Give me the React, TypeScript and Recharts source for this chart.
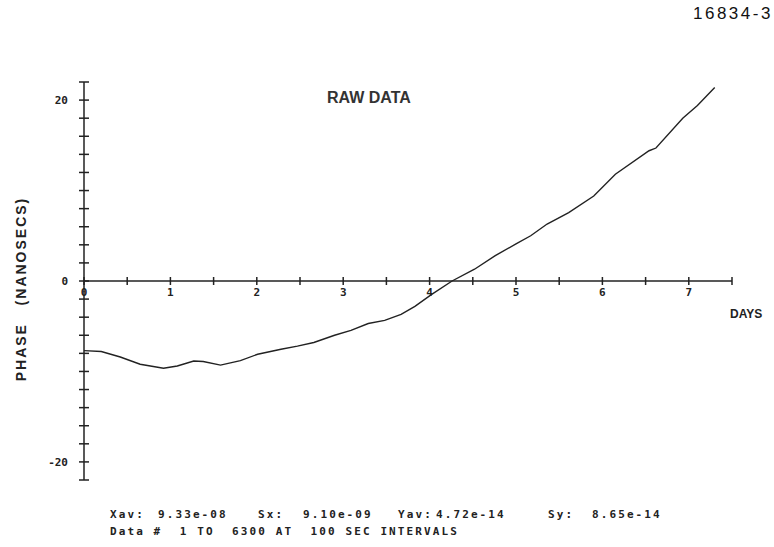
import { LineChart, Line, XAxis, YAxis } from 'recharts';

// days since start, phase in nanoseconds
const days = [0, 0.2, 0.42, 0.65, 0.92, 1.08, 1.27, 1.38, 1.58, 1.81, 2.01, 2.28, 2.47, 2.66, 2.9, 3.09, 3.29, 3.48, 3.67, 3.83, 4.02, 4.26, 4.52, 4.76, 5.0, 5.17, 5.36, 5.61, 5.9, 6.15, 6.54, 6.62, 6.93, 7.1, 7.3];
const phase = [-7.7, -7.8, -8.4, -9.2, -9.65, -9.4, -8.85, -8.9, -9.3, -8.8, -8.1, -7.55, -7.2, -6.8, -6.0, -5.45, -4.7, -4.35, -3.7, -2.8, -1.5, 0, 1.3, 2.8, 4.1, 5.0, 6.3, 7.55, 9.4, 11.8, 14.4, 14.7, 18.0, 19.4, 21.4];

const xTicks = [0, 0.5, 1, 1.5, 2, 2.5, 3, 3.5, 4, 4.5, 5, 5.5, 6, 6.5, 7, 7.5];
const yTicks = [-22, -20, -18, -16, -14, -12, -10, -8, -6, -4, -2, 0, 2, 4, 6, 8, 10, 12, 14, 16, 18, 20, 22];
const yLabels = [-20, 0, 20];

const statLine = [
  { text: 'Xav:', x: 110 },
  { text: '9.33e-08', x: 158 },
  { text: 'Sx:', x: 258 },
  { text: '9.10e-09', x: 303 },
  { text: 'Yav:', x: 398 },
  { text: '4.72e-14', x: 436 },
  { text: 'Sy:', x: 548 },
  { text: '8.65e-14', x: 592 },
];
const dataLine = 'Data #  1 TO  6300 AT  100 SEC INTERVALS';

const data = days.map((d, i) => ({ day: d, phase: phase[i] }));

const W = 774;
const H = 547;
const INK = '#222';
const mono = '"DejaVu Sans Mono", monospace';
const sans = '"Liberation Sans", Arial, sans-serif';

const layer: React.CSSProperties = { position: 'absolute', left: 0, top: 0 };

// tick drawn as a small cross through the axis, label only on labelled values
function YTick(props: any) {
  const { x, y, payload } = props;
  const v = payload.value as number;
  return (
    <g>
      <line x1={x - 5} x2={x + 5} y1={y} y2={y} stroke={INK} strokeWidth={1.5} />
      {yLabels.includes(v) && (
        <text x={x - 16} y={y} dy={4} textAnchor="end" fontFamily={mono} fontSize={11} fontWeight={700} fill={INK}>
          {v}
        </text>
      )}
    </g>
  );
}

function XTick(props: any) {
  const { x, y, payload } = props;
  const v = payload.value as number;
  return (
    <g>
      <line x1={x} x2={x} y1={y - 4} y2={y + 4} stroke={INK} strokeWidth={1.5} />
      {Number.isInteger(v) && (
        <text x={x} y={y + 15} textAnchor="middle" fontFamily={mono} fontSize={11} fontWeight={700} fill={INK}>
          {v}
        </text>
      )}
    </g>
  );
}

export default function App() {
  return (
    <div style={{ position: 'absolute', left: 0, top: 0, width: W, height: H, background: '#fff', overflow: 'hidden' }}>
      {/* curve + vertical axis */}
      <div style={layer}>
        <LineChart width={W} height={H} data={data} margin={{ top: 82, right: 42, bottom: 67, left: 24 }}>
          <XAxis type="number" dataKey="day" domain={[0, 7.5]} hide />
          <YAxis
            type="number"
            domain={[-22, 22]}
            ticks={yTicks}
            interval={0}
            width={60}
            tickSize={0}
            tickMargin={0}
            tickLine={false}
            stroke={INK}
            strokeWidth={1.5}
            tick={<YTick />}
          />
          <Line
            type="linear"
            dataKey="phase"
            stroke={INK}
            strokeWidth={1.4}
            dot={false}
            isAnimationActive={false}
          />
        </LineChart>
      </div>

      {/* horizontal axis through zero */}
      <div style={layer}>
        <LineChart width={W} height={H} data={data} margin={{ top: 82, right: 42, bottom: 236, left: 84 }}>
          <XAxis
            type="number"
            dataKey="day"
            domain={[0, 7.5]}
            ticks={xTicks}
            interval={0}
            height={30}
            tickSize={0}
            tickMargin={0}
            tickLine={false}
            stroke={INK}
            strokeWidth={1.5}
            tick={<XTick />}
          />
          <YAxis hide domain={[0, 22]} />
          <Line dataKey="phase" stroke="none" dot={false} isAnimationActive={false} />
        </LineChart>
      </div>

      <div style={{ position: 'absolute', left: 693, top: 4, fontFamily: sans, fontSize: 17, letterSpacing: 2.5, color: '#111' }}>
        16834-3
      </div>
      <div style={{ position: 'absolute', left: 327, top: 89, fontFamily: sans, fontSize: 16, fontWeight: 700, color: '#333' }}>
        RAW DATA
      </div>
      <div
        style={{
          position: 'absolute',
          left: 21,
          top: 289,
          transform: 'translate(-50%, -50%) rotate(-90deg)',
          whiteSpace: 'pre',
          fontFamily: sans,
          fontSize: 14,
          fontWeight: 700,
          letterSpacing: 2,
          color: INK,
        }}
      >
        {'PHASE   (NANOSECS)'}
      </div>
      <div style={{ position: 'absolute', left: 730, top: 307, fontFamily: sans, fontSize: 12, fontWeight: 700, color: INK }}>
        DAYS
      </div>

      {statLine.map((s) => (
        <div
          key={s.text + s.x}
          style={{ position: 'absolute', left: s.x, top: 508, fontFamily: mono, fontSize: 11, fontWeight: 700, letterSpacing: 2.1, color: INK, whiteSpace: 'pre' }}
        >
          {s.text}
        </div>
      ))}
      <div style={{ position: 'absolute', left: 110, top: 525, fontFamily: mono, fontSize: 11, fontWeight: 700, letterSpacing: 2.1, color: INK, whiteSpace: 'pre' }}>
        {dataLine}
      </div>
    </div>
  );
}
